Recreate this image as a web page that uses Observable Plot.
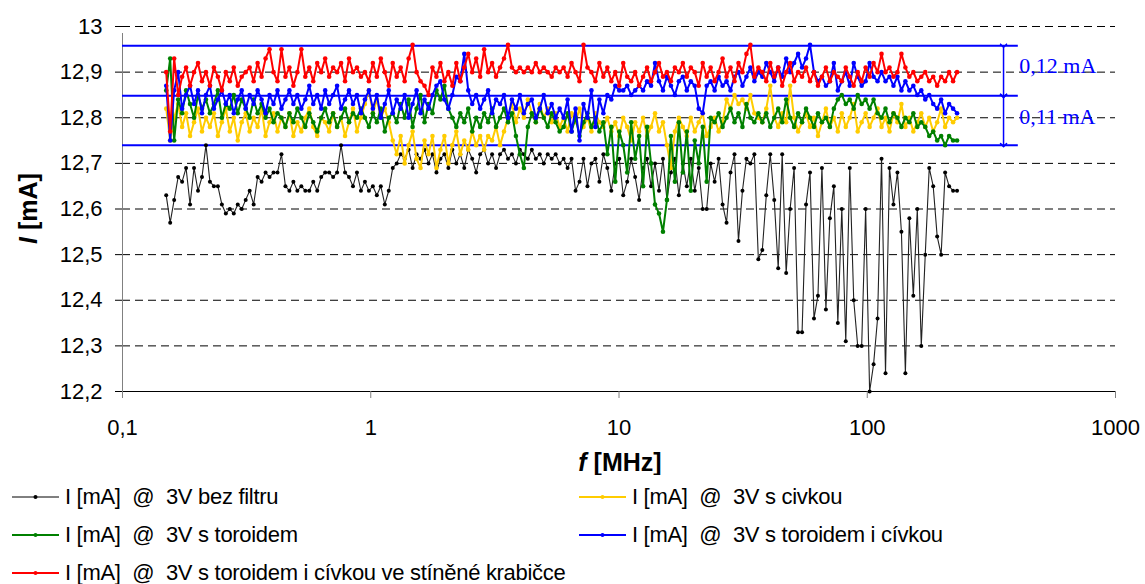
<!DOCTYPE html>
<html><head><meta charset="utf-8">
<script src="https://cdn.jsdelivr.net/npm/d3@7"></script>
<script src="https://cdn.jsdelivr.net/npm/@observablehq/plot@0.6"></script>
<style>
body{margin:0;background:#fff;font-family:"Liberation Sans",Arial,sans-serif;}
#wrap{position:relative;width:1145px;height:584px;overflow:hidden;}
#legend{position:absolute;left:0;top:475px;width:1145px;height:109px;}
.item{position:absolute;display:flex;align-items:center;height:30px;font-size:22px;white-space:pre;color:#000;letter-spacing:-0.3px;}
.item svg{display:block;margin-right:6px;}
</style></head><body><div id="wrap"></div>
<script>
// sweep of the measurement: 150 kHz .. 230 MHz, log-spaced points
const fStart = 0.15, fStop = 230, nPoints = 200;

const seriesNames = [
  "I [mA]  @  3V bez filtru",
  "I [mA]  @  3V s civkou",
  "I [mA]  @  3V s toroidem",
  "I [mA]  @  3V s toroidem i cívkou",
  "I [mA]  @  3V s toroidem i cívkou ve stíněné krabičce"
];
const seriesColors = ["#000000", "#FFCC00", "#008000", "#0000FF", "#FF0000"];

const black = [12.63,12.57,12.62,12.67,12.66,12.69,12.61,12.69,12.64,12.67,
12.74,12.66,12.65,12.65,12.61,12.59,12.60,12.59,12.61,12.60,
12.62,12.64,12.61,12.67,12.66,12.68,12.67,12.68,12.68,12.72,
12.65,12.64,12.66,12.64,12.65,12.64,12.64,12.66,12.64,12.67,
12.68,12.68,12.67,12.68,12.74,12.68,12.67,12.65,12.68,12.64,
12.66,12.64,12.65,12.63,12.65,12.61,12.64,12.69,12.70,12.72,
12.71,12.73,12.69,12.72,12.71,12.73,12.70,12.72,12.68,12.71,
12.72,12.69,12.73,12.70,12.72,12.69,12.73,12.71,12.68,12.72,
12.73,12.70,12.72,12.69,12.72,12.73,12.71,12.72,12.70,12.73,
12.72,12.71,12.73,12.71,12.72,12.70,12.72,12.71,12.72,12.70,
12.71,12.69,12.71,12.64,12.66,12.71,12.65,12.70,12.71,12.66,
12.72,12.69,12.64,12.70,12.71,12.63,12.66,12.71,12.67,12.62,
12.69,12.71,12.65,12.70,12.64,12.71,12.62,12.68,12.71,12.63,
12.70,12.65,12.71,12.64,12.69,12.60,12.60,12.70,12.66,12.71,
12.61,12.57,12.68,12.72,12.53,12.64,12.71,12.70,12.72,12.49,
12.51,12.63,12.72,12.62,12.47,12.72,12.46,12.60,12.69,12.33,
12.33,12.61,12.68,12.36,12.41,12.69,12.38,12.58,12.65,12.35,
12.60,12.31,12.69,12.40,12.30,12.30,12.60,12.20,12.26,12.36,
12.71,12.24,12.69,12.61,12.68,12.55,12.24,12.58,12.41,12.60,
12.30,12.50,12.69,12.65,12.54,12.50,12.68,12.65,12.64,12.64];

const yellow = [12.82,12.75,12.80,12.83,12.78,12.81,12.76,12.79,12.82,12.77,
12.80,12.78,12.81,12.76,12.79,12.82,12.77,12.80,12.75,12.79,
12.81,12.77,12.80,12.78,12.82,12.76,12.79,12.81,12.77,12.80,
12.78,12.81,12.76,12.79,12.77,12.80,12.82,12.78,12.76,12.80,
12.79,12.77,12.81,12.78,12.80,12.76,12.79,12.82,12.77,12.80,
12.83,12.86,12.81,12.84,12.80,12.82,12.79,12.75,12.72,12.76,
12.70,12.74,12.77,12.71,12.69,12.75,12.72,12.76,12.69,12.73,
12.76,12.70,12.74,12.77,12.72,12.75,12.73,12.77,12.74,12.76,
12.73,12.76,12.75,12.78,12.74,12.77,12.80,12.83,12.79,12.82,
12.80,12.84,12.81,12.79,12.83,12.80,12.82,12.79,12.81,12.78,
12.80,12.77,12.81,12.79,12.82,12.78,12.80,12.77,12.81,12.79,
12.78,12.80,12.77,12.79,12.76,12.80,12.78,12.75,12.79,12.77,
12.80,12.76,12.78,12.81,12.77,12.79,12.74,12.69,12.77,12.80,
12.78,12.76,12.80,12.77,12.79,12.81,12.76,12.78,12.80,12.77,
12.79,12.84,12.82,12.85,12.83,12.84,12.82,12.85,12.81,12.80,
12.79,12.82,12.87,12.80,12.78,12.81,12.79,12.87,12.80,12.77,
12.79,12.81,12.78,12.80,12.76,12.79,12.82,12.78,12.80,12.77,
12.81,12.78,12.80,12.83,12.77,12.79,12.81,12.78,12.80,12.82,
12.78,12.80,12.77,12.81,12.79,12.83,12.78,12.80,12.77,12.79,
12.81,12.78,12.80,12.77,12.79,12.82,12.78,12.80,12.79,12.80];

const green = [12.86,12.93,12.75,12.84,12.81,12.86,12.83,12.80,12.85,12.82,
12.84,12.81,12.83,12.86,12.80,12.83,12.82,12.85,12.81,12.84,
12.82,12.80,12.84,12.81,12.83,12.80,12.82,12.79,12.81,12.80,
12.78,12.81,12.79,12.82,12.80,12.78,12.81,12.79,12.77,12.80,
12.82,12.79,12.81,12.78,12.80,12.82,12.79,12.81,12.80,12.82,
12.80,12.78,12.81,12.79,12.82,12.77,12.80,12.81,12.79,12.83,
12.80,12.84,12.78,12.82,12.85,12.79,12.83,12.81,12.86,12.84,
12.87,12.82,12.80,12.78,12.81,12.79,12.82,12.77,12.80,12.78,
12.81,12.79,12.82,12.78,12.80,12.82,12.79,12.81,12.76,12.72,
12.69,12.78,12.81,12.79,12.82,12.80,12.78,12.81,12.79,12.77,
12.78,12.81,12.77,12.80,12.76,12.79,12.81,12.78,12.80,12.77,
12.79,12.72,12.78,12.66,12.77,12.74,12.68,12.79,12.71,12.76,
12.65,12.78,12.70,12.61,12.59,12.55,12.62,12.76,12.66,12.79,
12.68,12.77,12.64,12.75,12.70,12.78,12.66,12.80,12.79,12.81,
12.78,12.80,12.82,12.79,12.81,12.78,12.83,12.80,12.79,12.81,
12.79,12.81,12.78,12.80,12.82,12.79,12.84,12.80,12.78,12.81,
12.79,12.82,12.80,12.78,12.81,12.79,12.80,12.78,12.82,12.84,
12.85,12.83,12.84,12.82,12.85,12.83,12.84,12.82,12.84,12.81,
12.80,12.82,12.79,12.81,12.80,12.78,12.80,12.79,12.81,12.78,
12.79,12.78,12.76,12.77,12.75,12.76,12.74,12.76,12.75,12.75];

const blue = [12.87,12.75,12.86,12.90,12.82,12.85,12.87,12.83,12.86,12.81,
12.85,12.87,12.82,12.84,12.86,12.83,12.85,12.81,12.84,12.86,
12.82,12.85,12.83,12.86,12.84,12.81,12.85,12.83,12.86,12.82,
12.84,12.86,12.83,12.85,12.82,12.84,12.87,12.83,12.85,12.82,
12.86,12.83,12.85,12.87,12.82,12.84,12.86,12.83,12.85,12.81,
12.84,12.86,12.82,12.85,12.80,12.83,12.86,12.81,12.84,12.82,
12.85,12.80,12.83,12.86,12.81,12.84,12.82,12.85,12.87,12.88,
12.84,12.82,12.85,12.89,12.88,12.94,12.86,12.83,12.85,12.82,
12.84,12.86,12.81,12.84,12.83,12.85,12.80,12.84,12.82,12.85,
12.81,12.83,12.84,12.80,12.82,12.85,12.81,12.83,12.80,12.82,
12.80,12.84,12.77,12.82,12.75,12.83,12.80,12.86,12.78,12.84,
12.81,12.85,12.84,12.87,12.86,12.86,12.87,12.85,12.86,12.87,
12.86,12.88,12.87,12.92,12.88,12.86,12.89,12.87,12.85,12.88,
12.89,12.86,12.88,12.87,12.82,12.81,12.87,12.88,12.86,12.89,
12.87,12.88,12.86,12.89,12.90,12.87,12.89,12.91,12.88,12.90,
12.89,12.92,12.90,12.88,12.91,12.89,12.93,12.90,12.92,12.94,
12.91,12.93,12.96,12.90,12.88,12.89,12.87,12.88,12.92,12.86,
12.88,12.90,12.87,12.92,12.89,12.87,12.88,12.92,12.89,12.88,
12.90,12.88,12.89,12.87,12.89,12.86,12.88,12.86,12.87,12.85,
12.86,12.84,12.85,12.83,12.82,12.84,12.81,12.83,12.82,12.81];

const red = [12.90,12.77,12.93,12.85,12.89,12.91,12.87,12.90,12.92,12.88,
12.90,12.87,12.91,12.89,12.86,12.90,12.88,12.91,12.87,12.89,
12.90,12.91,12.88,12.92,12.89,12.93,12.95,12.90,12.88,12.95,
12.89,12.91,12.87,12.90,12.95,12.89,12.91,12.88,12.92,12.90,
12.93,12.89,12.91,12.90,12.92,12.88,12.93,12.90,12.91,12.89,
12.90,12.88,12.92,12.89,12.93,12.90,12.87,12.92,12.89,12.91,
12.88,12.93,12.96,12.90,12.88,12.87,12.85,12.91,12.89,12.92,
12.88,12.90,12.87,12.92,12.88,12.91,12.94,12.90,12.93,12.89,
12.95,12.90,12.92,12.89,12.91,12.93,12.96,12.91,12.90,12.91,
12.90,12.91,12.90,12.92,12.90,12.91,12.90,12.89,12.91,12.90,
12.91,12.89,12.92,12.90,12.88,12.96,12.91,12.90,12.88,12.92,
12.89,12.91,12.88,12.90,12.87,12.92,12.89,12.88,12.90,12.87,
12.89,12.91,12.88,12.90,12.92,12.89,12.90,12.88,12.91,12.90,
12.92,12.89,12.91,12.90,12.87,12.92,12.89,12.91,12.88,12.90,
12.93,12.89,12.91,12.88,12.92,12.90,12.94,12.96,12.89,12.91,
12.90,12.88,12.92,12.89,12.91,12.87,12.90,12.92,12.88,12.90,
12.89,12.91,12.88,12.90,12.87,12.89,12.91,12.88,12.90,12.89,
12.88,12.91,12.89,12.87,12.90,12.88,12.91,12.89,12.92,12.90,
12.94,12.90,12.91,12.89,12.90,12.94,12.91,12.89,12.90,12.88,
12.89,12.90,12.88,12.89,12.87,12.89,12.88,12.90,12.88,12.90];

const xTicks = [0.1, 1, 10, 100, 1000];
const yTicks = [12.2, 12.3, 12.4, 12.5, 12.6, 12.7, 12.8, 12.9, 13];
const refLevels = [12.958, 12.848, 12.740];
const spanLabels = ["0,12 mA", "0,11 mA"];
const spanLabelLevels = [12.913, 12.802];

const seriesValues = [black, yellow, green, blue, red];
const freq = d3.range(nPoints).map(i => fStart * Math.pow(fStop / fStart, i / (nPoints - 1)));
const rows = seriesNames.map((name, k) => seriesValues[k].map((v, i) => ({f: freq[i], I: v, series: name})));

const fmt = d => String(+(+d).toFixed(1)).replace(".", ",");

const refEnd = 406, arrowX = 354;

const marks = [
  Plot.gridY(yTicks.filter(d => d > 12.2), {stroke: "#000", strokeOpacity: 1, strokeDasharray: "8,5", strokeWidth: 1}),
  Plot.ruleX([0.1], {stroke: "#808080", y1: 12.2, y2: 13, insetBottom: -7}),
  Plot.ruleY([12.2], {stroke: "#000"}),
  Plot.axisY({ticks: yTicks, tickSize: 7, tickPadding: 13, tickFormat: fmt, label: null, stroke: "#000", fontSize: 22}),
  Plot.axisX({ticks: xTicks, tickSize: 7, tickPadding: 21, tickFormat: fmt, label: null, stroke: "#808080", fontSize: 22}),
  Plot.ruleY(refLevels, {x1: 0.1, x2: refEnd, stroke: "#0000FF", strokeWidth: 2}),
  Plot.link([0, 1], {x1: () => arrowX, x2: () => arrowX, y1: i => refLevels[i], y2: i => refLevels[i + 1],
    stroke: "#0000FF", strokeWidth: 1.5, markerStart: "arrow", markerEnd: "arrow"}),
  Plot.text(spanLabels, {x: () => refEnd, y: (d, i) => spanLabelLevels[i], text: d => d, textAnchor: "start",
    fill: "#0000FF", fontFamily: "Liberation Serif", fontSize: 22, dx: 1})
];
rows.forEach((data, k) => {
  marks.push(Plot.line(data, {x: "f", y: "I", stroke: k === 0 ? "#222" : seriesColors[k], strokeWidth: k === 0 ? 1.1 : 2}));
  marks.push(Plot.dot(data, {x: "f", y: "I", r: k === 0 ? 2 : 2.3, fill: seriesColors[k], stroke: "none"}));
});

const chart = Plot.plot({
  width: 1145, height: 475,
  marginLeft: 122, marginRight: 30, marginTop: 26, marginBottom: 84,
  style: {fontFamily: "Liberation Sans, Arial, sans-serif", fontSize: "22px", background: "#fff", color: "#000"},
  x: {type: "log", domain: [0.1, 1000]},
  y: {domain: [12.2, 13]},
  marks
});

const svg = d3.select(chart);
// axis titles
const yt = svg.append("text").attr("transform", "translate(28,208.5) rotate(-90)")
  .attr("text-anchor", "middle").attr("dy", "0.36em").attr("font-size", 25).attr("font-weight", "bold").attr("fill", "#000");
yt.append("tspan").attr("font-style", "italic").text("I");
yt.append("tspan").text(" [mA]");
const xt = svg.append("text").attr("x", 620).attr("y", 471)
  .attr("text-anchor", "middle").attr("font-size", 25).attr("font-weight", "bold").attr("fill", "#000");
xt.append("tspan").attr("font-style", "italic").text("f");
xt.append("tspan").text(" [MHz]");

const wrap = document.getElementById("wrap");
wrap.appendChild(chart);

// legend (row-major, two columns)
const legend = document.createElement("div");
legend.id = "legend";
wrap.appendChild(legend);
const legendPos = [[12, 22], [579, 22], [12, 60], [579, 60], [12, 98]];
const legendOrder = [0, 1, 2, 3, 4];
legendOrder.forEach((k, j) => {
  const item = d3.select(legend).append("div").attr("class", "item")
    .style("left", legendPos[j][0] + "px").style("top", (legendPos[j][1] - 15) + "px");
  const s = item.append("svg").attr("width", 47).attr("height", 30);
  s.append("line").attr("x1", 0).attr("x2", 47).attr("y1", 15).attr("y2", 15)
    .attr("stroke", seriesColors[k]).attr("stroke-width", k === 0 ? 1 : 2);
  s.append("circle").attr("cx", 23.5).attr("cy", 15).attr("r", 2).attr("fill", seriesColors[k]);
  item.append("span").text(seriesNames[k]);
});
</script>
</body></html>
